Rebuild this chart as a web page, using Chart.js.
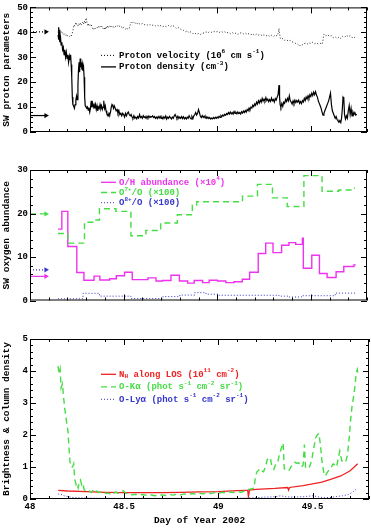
<!DOCTYPE html>
<html>
<head>
<meta charset="utf-8">
<script src="https://cdn.jsdelivr.net/npm/chart.js@4/dist/chart.umd.min.js"></script>
<style>
  body { margin: 0; background: #fff; }
  #wrap { position: relative; width: 371px; height: 529px; overflow: hidden; }
  canvas { position: absolute; left: 0; }
</style>
</head>
<body>
<div id="wrap">
  <canvas id="c1" width="371" height="170" style="top:0"></canvas>
  <canvas id="c2" width="371" height="180" style="top:160px"></canvas>
  <canvas id="c3" width="371" height="199" style="top:330px"></canvas>
</div>
<script>
// ─── data (day of year, value) ────────────────────────────────────
const xMin = 48, xMax = 49.8
const xTickLabels = [48, 48.5, 49, 49.5]
const arrowSpan = [48.0, 48.085]

const protonVelocity = [
  [48.150,40],[48.155,41.5],[48.160,39.5],[48.165,40.5],[48.170,39.5],[48.175,39.8],[48.180,39],[48.185,39.5],
  [48.190,38.8],[48.195,39.3],[48.200,38.5],[48.205,38.6],[48.210,38.3],[48.215,38.8],[48.220,38.5],[48.225,39.5],
  [48.230,41],[48.235,43],[48.240,42.5],[48.245,44],[48.250,43],[48.255,42.5],[48.260,43.5],[48.265,42.8],
  [48.270,43.8],[48.275,43],[48.280,44],[48.285,43.2],[48.290,44.5],[48.295,43.5],[48.300,45.8],[48.305,43.5],
  [48.310,42.5],[48.315,43.5],[48.320,42.8],[48.325,43.3],[48.330,42.5],[48.335,41.5],[48.340,41],[48.345,42],
  [48.350,41.6],[48.355,42.2],[48.360,41.8],[48.365,42.5],[48.370,41.7],[48.375,42.3],[48.380,41.8],[48.385,42.5],
  [48.390,41.5],[48.395,42],[48.400,41],[48.405,42.3],[48.410,41.5],[48.415,42.6],[48.420,42],[48.425,42.8],
  [48.430,42.2],[48.435,42.6],[48.440,42],[48.445,42.4],[48.450,41.8],[48.455,42.2],[48.460,42.6],[48.465,42.2],
  [48.470,42.8],[48.475,42.3],[48.480,42.5],[48.485,42],[48.490,42.2],[48.495,41.5],[48.500,42],[48.505,41.6],
  [48.510,41.3],[48.515,41.8],[48.520,41.4],[48.525,41.2],[48.530,41.5],[48.535,43],[48.540,44],[48.545,43.5],
  [48.550,44],[48.555,43.6],[48.560,43.9],[48.565,43.4],[48.570,43.8],[48.575,43.3],[48.580,43.6],[48.590,43.2],
  [48.600,43.5],[48.610,43],[48.620,43.3],[48.630,42.8],[48.640,43.1],[48.650,42.7],[48.660,43],[48.670,42.6],
  [48.680,42.9],[48.690,42.4],[48.700,42.8],[48.710,42.3],[48.720,42.6],[48.730,42.2],[48.740,42.7],[48.750,42.3],
  [48.760,42.8],[48.770,42.4],[48.780,41.6],[48.790,42],[48.800,41.5],[48.810,41],[48.820,40.8],[48.830,40.2],
  [48.840,40.6],[48.850,39.8],[48.860,40.3],[48.870,39.5],[48.880,39.7],[48.890,39.2],[48.900,39.5],[48.910,39.1],
  [48.920,39.6],[48.930,39.8],[48.940,40.2],[48.950,39.8],[48.960,40.3],[48.970,40],[48.980,40.4],[48.990,40.1],
  [49.000,40.3],[49.010,39.9],[49.020,40.4],[49.030,40],[49.040,40.2],[49.050,39.7],[49.060,40],[49.070,39.5],
  [49.080,39.9],[49.090,39.4],[49.100,39.7],[49.110,39.2],[49.120,39.6],[49.130,39.9],[49.140,39.4],[49.150,39.7],
  [49.160,39.2],[49.170,39.5],[49.180,39],[49.190,39.4],[49.200,38.8],[49.210,39.3],[49.220,38.9],[49.230,39.2],
  [49.240,38.6],[49.250,39],[49.260,38.5],[49.270,38.9],[49.280,38.4],[49.290,38.8],[49.300,38.3],[49.310,38.9],
  [49.320,38.5],[49.325,39.5],[49.330,41.5],[49.333,39.5],[49.337,37.6],[49.340,37.2],[49.350,37.5],[49.360,36.8],
  [49.370,37],[49.380,36.5],[49.390,36.8],[49.400,36.2],[49.410,35.9],[49.420,35.5],[49.430,35.2],[49.440,34.5],
  [49.445,35],[49.450,34.7],[49.460,35.3],[49.470,35.6],[49.480,35.2],[49.490,35.8],[49.500,35.5],[49.510,36],
  [49.520,35.4],[49.530,35.7],[49.540,35.3],[49.550,35.6],[49.560,35.2],[49.565,37],[49.570,39.3],[49.580,38.6],
  [49.590,39],[49.600,38.4],[49.610,38.6],[49.620,37.8],[49.630,38.2],[49.640,37.6],[49.650,38.1],[49.660,37.5],
  [49.670,38.4],[49.680,38],[49.690,38.8],[49.700,38.3],[49.710,38.6],[49.720,37.8],[49.730,38.2],[49.740,37.6],
  [49.745,37.8]
]

const protonDensity = [
  [48.150,39],[48.152,42],[48.154,37],[48.156,41],[48.158,36],[48.160,40],[48.163,38],[48.166,35],[48.170,36],
  [48.174,33],[48.178,34],[48.182,31],[48.186,33],[48.190,30],[48.194,32],[48.198,29.5],[48.202,31],[48.206,28],
  [48.210,30.5],[48.214,29],[48.217,31],[48.220,27],[48.223,22],[48.226,14],[48.229,11],[48.233,10.5],[48.237,9.5],
  [48.241,11],[48.245,13],[48.249,14.5],[48.252,13],[48.256,19],[48.259,25],[48.262,28],[48.265,24],[48.268,29.5],
  [48.271,26],[48.274,28],[48.277,25],[48.280,27],[48.283,24.5],[48.286,26],[48.289,22],[48.292,14],[48.295,10.5],
  [48.299,10],[48.303,9.5],[48.307,10],[48.311,8.8],[48.315,9.8],[48.319,8],[48.323,9.5],[48.327,12.5],[48.330,10],
  [48.334,11.5],[48.338,10],[48.342,11],[48.346,9.5],[48.350,11],[48.354,9],[48.358,10.5],[48.362,8.5],[48.366,10],
  [48.370,9.5],[48.374,11],[48.378,9.5],[48.382,10.5],[48.386,9],[48.390,10],[48.394,12.5],[48.398,9.5],[48.402,10.5],
  [48.406,8.5],[48.410,7.5],[48.414,7],[48.418,6.5],[48.422,7.5],[48.426,7],[48.430,8],[48.434,10],[48.438,11],
  [48.442,10.5],[48.446,9.5],[48.450,10.5],[48.455,9.5],[48.460,8.5],[48.465,9],[48.470,7.5],[48.475,8.5],[48.480,7],
  [48.485,7.5],[48.490,6.5],[48.495,7.5],[48.500,7],[48.505,6],[48.510,7.5],[48.515,6.5],[48.520,7.5],[48.525,8],
  [48.530,7],[48.535,6.5],[48.540,7],[48.545,6],[48.550,5.5],[48.555,6.5],[48.560,5.5],[48.565,6],[48.570,5.3],
  [48.575,6.2],[48.580,5.6],[48.585,7],[48.590,5.8],[48.595,6.2],[48.600,5.5],[48.605,6.5],[48.610,5.8],[48.615,6.2],
  [48.620,5.5],[48.625,6.3],[48.630,5.7],[48.635,6.4],[48.640,5.8],[48.645,6.2],[48.650,6],[48.655,6.5],[48.660,5.8],
  [48.665,6.2],[48.670,5.5],[48.675,6],[48.680,5.4],[48.685,6.2],[48.690,5.6],[48.695,6.3],[48.700,5.5],[48.705,6],
  [48.710,5.3],[48.715,6.1],[48.720,5.5],[48.725,6.4],[48.730,5.2],[48.735,6],[48.740,5.5],[48.745,6.3],[48.750,5.8],
  [48.755,5.2],[48.760,6],[48.765,5.5],[48.770,6.4],[48.775,7],[48.780,6.2],[48.785,5.5],[48.790,6.3],[48.795,5.4],
  [48.800,6],[48.805,5.5],[48.810,6.2],[48.815,5.4],[48.820,6.1],[48.825,5.3],[48.830,5.8],[48.835,5.2],[48.840,6],
  [48.845,5.5],[48.850,6.5],[48.855,5.8],[48.860,5.3],[48.865,6.2],[48.870,5.4],[48.875,6.5],[48.880,7],[48.885,7.8],
  [48.890,6.8],[48.895,7.5],[48.900,9],[48.905,7.8],[48.910,6.3],[48.915,5.8],[48.920,6.6],[48.925,5.9],[48.930,6.4],
  [48.935,5.7],[48.940,6.2],[48.945,5.5],[48.950,6],[48.955,5.4],[48.960,5.8],[48.965,5.2],[48.970,5.6],[48.975,5.3],
  [48.980,5.8],[48.985,5.4],[48.990,5.9],[48.995,5.5],[49.000,6],[49.005,5.6],[49.010,6.3],[49.015,5.9],[49.020,6.6],
  [49.025,6.2],[49.030,6.8],[49.035,6.4],[49.040,7.1],[49.045,6.7],[49.050,7.4],[49.055,7],[49.060,7.8],[49.065,7.2],
  [49.070,8],[49.075,7.3],[49.080,7.8],[49.085,7.2],[49.090,8.2],[49.095,7.5],[49.100,7.9],[49.105,7.3],[49.110,8],
  [49.115,7.4],[49.120,7.8],[49.125,7.2],[49.130,8.1],[49.135,7.6],[49.140,8.4],[49.145,7.8],[49.150,8.6],[49.155,8],
  [49.160,9],[49.165,8.5],[49.170,9.6],[49.175,9],[49.180,10],[49.185,9.6],[49.190,10.8],[49.195,10.2],[49.200,11.3],
  [49.205,10.7],[49.210,12],[49.215,11.2],[49.220,12.5],[49.225,11.6],[49.230,12.8],[49.235,12],[49.240,13.5],
  [49.245,12.4],[49.250,13.2],[49.255,12.5],[49.260,13.8],[49.265,12.6],[49.270,13.2],[49.275,12.2],[49.280,13],
  [49.285,12.3],[49.290,13.6],[49.295,12.5],[49.300,13],[49.305,12],[49.310,13.4],[49.315,12.8],[49.320,14],
  [49.325,15],[49.330,18.8],[49.333,14],[49.336,11],[49.340,10],[49.345,11.5],[49.350,10.3],[49.355,12],[49.360,11.5],
  [49.365,13],[49.370,12.2],[49.375,13.5],[49.380,12.5],[49.385,14.5],[49.390,12.5],[49.395,12],[49.400,11.2],
  [49.405,12.5],[49.410,11.5],[49.415,12.8],[49.420,11.8],[49.425,12.6],[49.430,12],[49.435,12.8],[49.440,11.5],
  [49.445,12.2],[49.450,11.4],[49.455,12.6],[49.460,12],[49.465,13.5],[49.470,12.6],[49.475,14],[49.480,13.2],
  [49.485,14.5],[49.490,13.6],[49.495,15],[49.500,14.2],[49.505,15.6],[49.510,14.6],[49.515,16],[49.520,15],
  [49.525,16.2],[49.530,14.8],[49.535,14],[49.540,12.5],[49.545,11.5],[49.550,10.5],[49.555,9.5],[49.560,8],
  [49.565,6.8],[49.570,7.5],[49.575,8.5],[49.580,9.5],[49.585,10.5],[49.590,11.5],[49.595,12.5],[49.600,14],
  [49.605,15.6],[49.610,11],[49.615,8.5],[49.620,7.5],[49.625,6.5],[49.630,5.5],[49.635,6.2],[49.640,5],[49.645,4.5],
  [49.650,3.9],[49.655,4.6],[49.660,3.8],[49.664,5.5],[49.668,9],[49.672,14],[49.676,13.5],[49.680,7],[49.685,5.2],
  [49.690,6.5],[49.695,5.5],[49.700,8.5],[49.705,10.6],[49.710,7],[49.715,9.5],[49.720,6.5],[49.725,8],[49.730,7],
  [49.735,7.8],[49.740,6.8],[49.745,7.2]
]
const protonRefs = { velocity: 40.2, density: 6.6 }

// step series: value holds from this day until the next entry
const ohAbundance = [
  [48.149,16.4],[48.170,20.5],[48.202,12.4],[48.250,6.45],[48.288,4.65],[48.342,5.6],[48.373,4.7],[48.426,5.0],
  [48.461,5.7],[48.505,6.5],[48.546,4.8],[48.630,5.2],[48.673,4.5],[48.708,4.6],[48.753,5.8],[48.798,4.5],
  [48.842,4.0],[48.877,4.6],[48.922,4.1],[48.957,4.65],[49.002,4.5],[49.046,4.1],[49.090,4.3],[49.134,4.9],
  [49.173,6.5],[49.219,10.8],[49.259,13.2],[49.298,11.0],[49.344,12.7],[49.383,13.3],[49.419,12.9],[49.455,14.3],
  [49.460,7.4],[49.505,10.4],[49.546,6.2],[49.587,5.3],[49.635,6.6],[49.676,7.8],[49.730,8.2],[49.740,8.2]
]
const o7Ratio = [
  [48.149,15.4],[48.202,13.2],[48.291,18.0],[48.344,18.5],[48.371,21.1],[48.459,20.5],[48.539,14.9],[48.619,16.1],
  [48.698,17.8],[48.787,19.7],[48.867,21.9],[48.890,22.7],[49.135,24.0],[49.215,26.7],[49.295,23.6],[49.374,21.6],
  [49.463,28.7],[49.560,25.1],[49.649,25.4],[49.725,25.8],[49.735,25.8]
]
const o8Ratio = [
  [48.149,0.4],[48.283,1.65],[48.371,1.0],[48.539,0.45],[48.710,0.9],[48.800,1.25],[48.880,1.8],[48.940,1.45],
  [49.010,1.2],[49.330,1.0],[49.380,0.8],[49.450,1.1],[49.630,1.7],[49.740,1.7]
]
const oxygenRefs = { o7: 19.9, o8: 7.05, oh: 5.55 }

const nhColumn = [
  [48.150,0.27],[48.200,0.25],[48.300,0.23],[48.400,0.21],[48.500,0.2],[48.600,0.2],[48.700,0.2],[48.800,0.21],
  [48.900,0.22],[49.000,0.23],[49.100,0.26],[49.150,0.27],[49.156,0.27],[49.160,0.07],[49.165,0.28],[49.200,0.3],
  [49.300,0.33],[49.368,0.36],[49.373,0.28],[49.378,0.36],[49.450,0.42],[49.500,0.47],[49.550,0.53],[49.600,0.62],
  [49.650,0.72],[49.700,0.88],[49.740,1.1]
]
const oKalpha = [
  [48.149,4.15],[48.155,3.9],[48.160,4.05],[48.165,3.47],[48.172,3.6],[48.178,3.2],[48.184,2.85],[48.192,2.5],
  [48.202,2.1],[48.208,1.5],[48.214,1.05],[48.220,1.0],[48.226,1.0],[48.232,1.1],[48.238,0.6],[48.245,0.45],
  [48.250,0.5],[48.256,0.35],[48.262,0.55],[48.268,0.6],[48.274,0.45],[48.280,0.5],[48.287,0.3],[48.295,0.25],
  [48.305,0.22],[48.315,0.25],[48.325,0.2],[48.335,0.28],[48.345,0.22],[48.355,0.25],[48.365,0.2],[48.375,0.22],
  [48.385,0.18],[48.395,0.2],[48.405,0.17],[48.415,0.19],[48.425,0.16],[48.435,0.2],[48.445,0.18],[48.455,0.22],
  [48.465,0.18],[48.475,0.2],[48.485,0.24],[48.495,0.26],[48.505,0.2],[48.520,0.15],[48.540,0.13],[48.560,0.15],
  [48.580,0.12],[48.600,0.14],[48.620,0.11],[48.640,0.13],[48.660,0.1],[48.680,0.12],[48.700,0.13],[48.720,0.11],
  [48.740,0.14],[48.760,0.12],[48.780,0.15],[48.800,0.13],[48.820,0.16],[48.840,0.14],[48.860,0.17],[48.880,0.15],
  [48.900,0.18],[48.920,0.16],[48.940,0.19],[48.960,0.17],[48.980,0.2],[49.000,0.18],[49.020,0.21],[49.040,0.19],
  [49.060,0.22],[49.080,0.2],[49.100,0.23],[49.120,0.21],[49.140,0.25],[49.160,0.3],[49.180,0.32],[49.190,0.35],
  [49.197,0.7],[49.205,0.85],[49.214,0.9],[49.220,0.95],[49.230,0.88],[49.240,0.85],[49.250,1.0],[49.260,1.23],
  [49.270,1.3],[49.277,1.25],[49.285,1.0],[49.295,0.93],[49.305,1.1],[49.315,1.15],[49.325,1.4],[49.335,1.6],
  [49.344,1.75],[49.350,0.95],[49.360,0.9],[49.374,0.88],[49.385,1.0],[49.395,1.08],[49.405,1.15],[49.415,1.12],
  [49.427,1.13],[49.440,1.0],[49.450,1.05],[49.457,1.7],[49.463,1.0],[49.470,0.98],[49.480,0.95],[49.490,1.1],
  [49.498,1.3],[49.507,1.6],[49.516,1.9],[49.525,2.0],[49.534,2.05],[49.542,1.7],[49.550,1.2],[49.560,0.83],
  [49.568,0.72],[49.580,0.85],[49.596,0.95],[49.610,1.1],[49.620,1.05],[49.628,1.0],[49.637,1.3],[49.645,1.5],
  [49.655,1.2],[49.665,1.15],[49.676,1.15],[49.686,1.4],[49.694,1.85],[49.702,2.45],[49.710,2.9],[49.718,3.2],
  [49.725,3.5],[49.732,3.94],[49.738,4.05],[49.742,3.9]
]
const oLyalpha = [
  [48.150,0.16],[48.160,0.13],[48.170,0.14],[48.180,0.1],[48.200,0.08],[48.220,0.05],[48.250,0.04],[48.300,0.03],
  [48.400,0.02],[48.500,0.02],[48.600,0.02],[48.700,0.02],[48.800,0.02],[48.900,0.02],[49.000,0.02],[49.100,0.02],
  [49.150,0.03],[49.200,0.04],[49.250,0.06],[49.300,0.07],[49.330,0.1],[49.360,0.07],[49.400,0.06],[49.450,0.07],
  [49.500,0.1],[49.530,0.07],[49.560,0.04],[49.600,0.05],[49.630,0.08],[49.660,0.1],[49.690,0.14],[49.710,0.2],
  [49.730,0.3],[49.740,0.34]
]

// ─── styling ──────────────────────────────────────────────────────
const FONT = "'Liberation Mono', 'DejaVu Sans Mono', monospace"
const C = { black: '#000000', magenta: '#ee33ee', green: '#44dd44', blue: '#3535cc', red: '#ee2222' }
const DASH = { solid: [], dashed: [6, 4], dotted: [1, 2] }

const pts = arr => arr.map(([x, y]) => ({ x, y }))

function series(arr, color, dash, width = 1.3, stepped = false) {
  return {
    data: pts(arr), borderColor: color, borderWidth: width, borderDash: DASH[dash],
    pointRadius: 0, stepped: stepped ? 'before' : false, tension: 0
  }
}

function arrow(ref, color, dash) {
  return {
    data: arrowSpan.map(x => ({ x, y: ref })),
    borderColor: color, borderWidth: 1.2, borderDash: DASH[dash],
    pointRadius: [0, 3], pointStyle: 'triangle', rotation: 90,
    pointBackgroundColor: color, pointBorderWidth: 0, clip: false
  }
}

// superscript ^{..} / subscript _{..} aware text
function drawRich(ctx, text, x, y, color) {
  const parts = text.split(/(\^\{[^}]*\}|_\{[^}]*\})/).filter(Boolean)
  ctx.fillStyle = color
  ctx.textBaseline = 'middle'
  ctx.textAlign = 'left'
  parts.forEach(p => {
    let dy = 0, str = p
    if (p.startsWith('^{')) { ctx.font = `bold 6px ${FONT}`; dy = -3.5; str = p.slice(2, -1) }
    else if (p.startsWith('_{')) { ctx.font = `bold 6px ${FONT}`; dy = 2.5; str = p.slice(2, -1) }
    else ctx.font = `bold 9px ${FONT}`
    ctx.fillText(str, x, y + dy)
    x += ctx.measureText(str).width
  })
}

// frame, inward ticks and in-plot legend
const panelPlugin = {
  id: 'panel',
  afterDatasetsDraw(chart, args, opts) {
    const { ctx, chartArea: a, scales: { x, y } } = chart
    ctx.save()
    ctx.strokeStyle = '#000'
    ctx.lineWidth = 1
    ctx.setLineDash([])
    ctx.strokeRect(a.left + 0.5, a.top + 0.5, a.right - a.left - 1, a.bottom - a.top - 1)
    ctx.beginPath()
    for (let i = 0; xMin + i * 0.1 <= xMax + 1e-6; i++) {
      const px = Math.round(x.getPixelForValue(xMin + i * 0.1)) + 0.5
      const len = i % 5 === 0 ? 6 : 3
      ctx.moveTo(px, a.bottom); ctx.lineTo(px, a.bottom - len)
      ctx.moveTo(px, a.top); ctx.lineTo(px, a.top + len)
    }
    const n = Math.round((y.max - y.min) / opts.yMinor)
    for (let i = 0; i <= n; i++) {
      const py = Math.round(y.getPixelForValue(y.min + i * opts.yMinor)) + 0.5
      const len = i % opts.yPer === 0 ? 6 : 3
      ctx.moveTo(a.left, py); ctx.lineTo(a.left + len, py)
      ctx.moveTo(a.right, py); ctx.lineTo(a.right - len, py)
    }
    ctx.stroke()

    opts.legend.forEach((item, i) => {
      const ly = a.top + opts.legendTop + i * opts.legendGap
      const lx = a.left + 71
      ctx.strokeStyle = item.color
      ctx.lineWidth = item.width || 1.3
      ctx.setLineDash(DASH[item.dash])
      ctx.beginPath(); ctx.moveTo(lx, ly); ctx.lineTo(lx + 15, ly); ctx.stroke()
      drawRich(ctx, item.text, lx + 18, ly, item.textColor || item.color)
    })
    ctx.restore()
  }
}

function xScale(show) {
  return {
    type: 'linear', min: xMin, max: xMax, display: show,
    grid: { display: false, drawTicks: false }, border: { display: false },
    afterBuildTicks: s => { s.ticks = xTickLabels.map(v => ({ value: v })) },
    afterFit: s => { s.height = 30 },
    ticks: { color: '#000', padding: 2, maxRotation: 0, callback: v => String(v),
             font: { family: FONT, size: 9, weight: 'bold' } },
    title: { display: show, text: 'Day of Year 2002', color: '#000', padding: { top: 0, bottom: 3 },
             font: { family: FONT, size: 9.5, weight: 'bold' } }
  }
}

function yScale(max, step, title) {
  return {
    min: 0, max, grid: { display: false, drawTicks: false }, border: { display: false },
    afterFit: s => { s.width = 30 },
    ticks: { stepSize: step, color: '#000', padding: 2, font: { family: FONT, size: 9, weight: 'bold' } },
    title: { display: true, text: title, color: '#000', padding: { top: 0.5, bottom: 0 },
             font: { family: FONT, size: 9.5, weight: 'bold' } }
  }
}

function makeChart(id, datasets, scales, padding, panel) {
  return new Chart(document.getElementById(id), {
    type: 'line',
    data: { datasets },
    options: {
      responsive: false, animation: false,
      layout: { padding },
      plugins: { legend: { display: false }, tooltip: { enabled: false }, panel },
      scales
    },
    plugins: [panelPlugin]
  })
}

// ─── panel 1: solar wind protons ──────────────────────────────────
makeChart('c1', [
  series(protonVelocity, '#222', 'dotted', 1),
  series(protonDensity, C.black, 'solid', 1.2),
  arrow(protonRefs.velocity, C.black, 'dotted'),
  arrow(protonRefs.density, C.black, 'solid')
], { x: xScale(false), y: yScale(50, 10, 'SW proton parameters') },
{ left: 0, right: 2, top: 2, bottom: 8 },
{ yMinor: 2, yPer: 5, legendTop: 48, legendGap: 11.5, legend: [
  { text: 'Proton velocity (10^{6} cm s^{-1})', color: C.black, dash: 'dotted', width: 1 },
  { text: 'Proton density (cm^{-3})', color: C.black, dash: 'solid' }
] })

// ─── panel 2: oxygen abundances ───────────────────────────────────
makeChart('c2', [
  series(o7Ratio, C.green, 'dashed', 1.4, true),
  series(o8Ratio, C.blue, 'dotted', 1, true),
  series(ohAbundance, C.magenta, 'solid', 1.4, true),
  arrow(oxygenRefs.o7, C.green, 'dashed'),
  arrow(oxygenRefs.o8, C.blue, 'dotted'),
  arrow(oxygenRefs.oh, C.magenta, 'solid')
], { x: xScale(false), y: yScale(30, 10, 'SW oxygen abundance') },
{ left: 0, right: 2, top: 10, bottom: 9.5 },
{ yMinor: 2, yPer: 5, legendTop: 12.3, legendGap: 10.2, legend: [
  { text: 'O/H abundance (×10^{4})', color: C.magenta, dash: 'solid' },
  { text: 'O^{7+}/O (×100)', color: C.green, dash: 'dashed' },
  { text: 'O^{8+}/O (×100)', color: C.blue, dash: 'dotted', width: 1 }
] })

// ─── panel 3: brightness and column density ───────────────────────
makeChart('c3', [
  series(oKalpha, C.green, 'dashed', 1.4),
  series(oLyalpha, C.blue, 'dotted', 1),
  series(nhColumn, C.red, 'solid', 1.3)
], { x: xScale(true), y: yScale(5, 1, 'Brightness & column density') },
{ left: 0, right: 2, top: 9, bottom: 0 },
{ yMinor: 0.2, yPer: 5, legendTop: 35.3, legendGap: 12.5, legend: [
  { text: 'N_{H} along LOS (10^{11} cm^{-2})', color: C.red, dash: 'solid' },
  { text: 'O-Kα (phot s^{-1} cm^{-2} sr^{-1})', color: C.green, dash: 'dashed' },
  { text: 'O-Lyα (phot s^{-1} cm^{-2} sr^{-1})', color: C.blue, dash: 'dotted', width: 1 }
] })
</script>
</body>
</html>
